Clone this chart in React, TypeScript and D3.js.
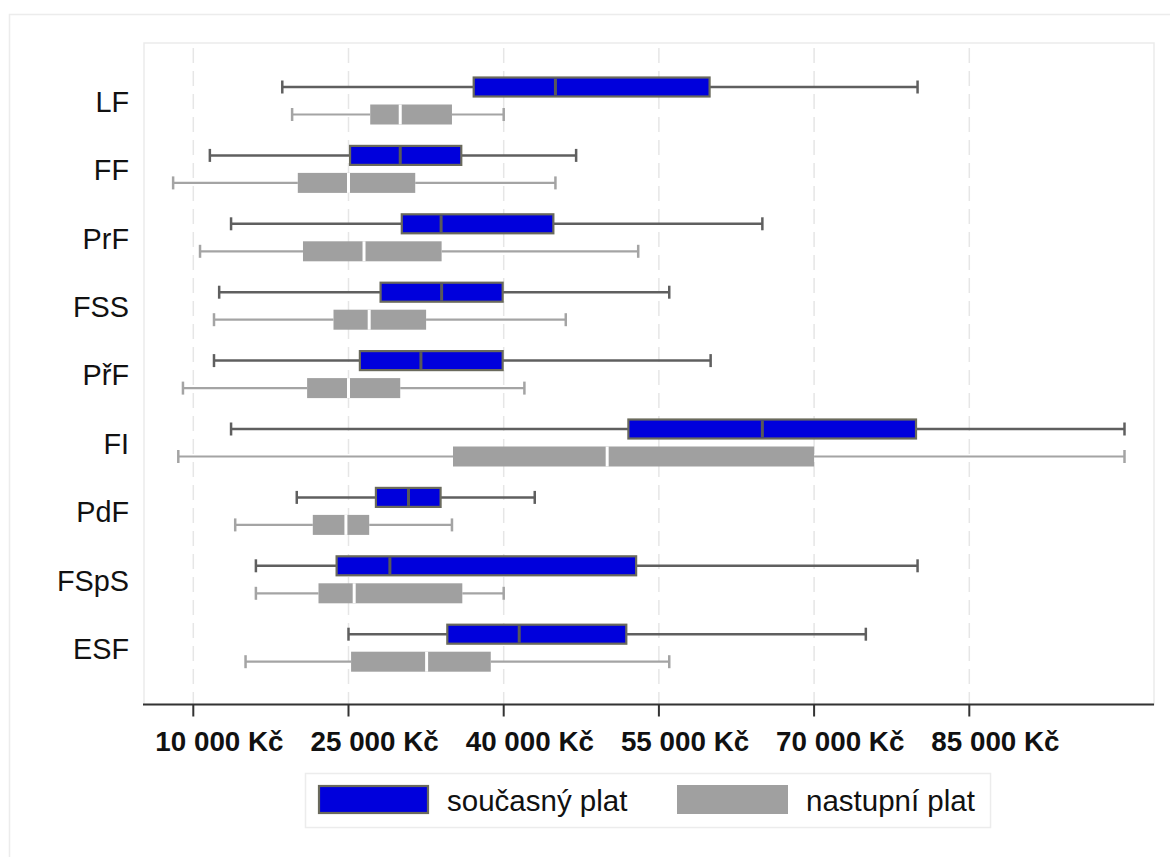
import React from "react";
import * as d3 from "d3";

const categories = ["LF", "FF", "PrF", "FSS", "PřF", "FI", "PdF", "FSpS", "ESF"];

// [min, q1, median, q3, max]
const currentSalary: number[][] = [
  [18600, 37100, 45000, 59900, 80000],
  [11600, 25150, 30000, 35900, 47000],
  [13650, 30150, 33950, 44800, 65000],
  [12500, 28100, 34000, 39900, 56000],
  [12000, 26100, 32000, 39900, 60000],
  [13650, 52050, 65000, 79850, 100000],
  [20000, 27650, 30800, 33900, 43000],
  [16050, 23850, 29000, 52800, 80000],
  [25000, 34550, 41500, 51850, 75000],
];

const startingSalary: number[][] = [
  [19550, 27100, 30000, 35000, 40000],
  [8050, 20100, 25000, 31450, 45000],
  [10650, 20600, 26500, 34000, 53000],
  [12000, 23550, 27000, 32500, 46000],
  [9000, 21000, 25000, 30000, 42000],
  [8550, 35100, 50000, 70000, 100000],
  [14050, 21550, 24750, 27000, 35000],
  [16050, 22100, 25550, 36000, 40000],
  [15050, 25250, 32550, 38750, 56000],
];

const tickValues = [10000, 25000, 40000, 55000, 70000, 85000];
const seriesNames = ["současný plat", "nastupní plat"];

const W = 1170;
const H = 857;
const plotLeft = 144;
const plotRight = 1154;
const plotTop = 43;
const axisY = 704.5;

const FONT = "'Liberation Sans', Arial, sans-serif";

function fmt(v: number) {
  const s = String(v);
  return s.replace(/\B(?=(\d{3})+(?!\d))/g, " ") + " Kč";
}

export default function App() {
  const x = d3
    .scaleLinear()
    .domain([10000, 85000])
    .range([193.3, 193.3 + 5 * 155.2]);

  const y = d3
    .scaleBand<string>()
    .domain(categories)
    .range([66.55, 66.55 + 9 * 68.4])
    .paddingInner(0)
    .paddingOuter(0);

  const boxH = 19;
  const offset = 13.75;

  const blueFill = "#0000dc";
  const blueStroke = "#6a6a5c";
  const blueWhisker = "#5f5f5f";
  const grayFill = "#a0a0a0";
  const grayWhisker = "#a4a4a4";

  const renderBox = (d: number[], cy: number, kind: "cur" | "start", key: string) => {
    const [mn, q1, md, q3, mx] = d;
    const isCur = kind === "cur";
    const wColor = isCur ? blueWhisker : grayWhisker;
    const wWidth = isCur ? 2.5 : 2.2;
    return (
      <g key={key}>
        <line x1={x(mn)} x2={x(q1)} y1={cy} y2={cy} stroke={wColor} strokeWidth={wWidth} />
        <line x1={x(q3)} x2={x(mx)} y1={cy} y2={cy} stroke={wColor} strokeWidth={wWidth} />
        <line x1={x(mn)} x2={x(mn)} y1={cy - 6.5} y2={cy + 6.5} stroke={wColor} strokeWidth={2.5} />
        <line x1={x(mx)} x2={x(mx)} y1={cy - 6.5} y2={cy + 6.5} stroke={wColor} strokeWidth={2.5} />
        {isCur ? (
          <rect
            x={x(q1)}
            y={cy - boxH / 2}
            width={x(q3) - x(q1)}
            height={boxH}
            fill={blueFill}
            stroke={blueStroke}
            strokeWidth={2.2}
          />
        ) : (
          <rect
            x={x(q1)}
            y={cy - (boxH + 1) / 2}
            width={x(q3) - x(q1)}
            height={boxH + 1}
            fill={grayFill}
          />
        )}
        <line
          x1={x(md)}
          x2={x(md)}
          y1={cy - boxH / 2 + (isCur ? 1 : -0.5)}
          y2={cy + boxH / 2 - (isCur ? 1 : -0.5)}
          stroke={isCur ? "#595959" : "#ffffff"}
          strokeWidth={3}
        />
      </g>
    );
  };

  return (
    <svg
      width={W}
      height={H}
      style={{ position: "absolute", left: 0, top: 0, background: "#fff" }}
      fontFamily={FONT}
    >
      <rect x={0} y={0} width={W} height={H} fill="#ffffff" />
      {/* outer frame */}
      <rect x={9.5} y={14.5} width={W + 20} height={H + 20} fill="none" stroke="#ececec" strokeWidth={1.5} />
      {/* plot frame */}
      <rect
        x={plotLeft}
        y={plotTop}
        width={plotRight - plotLeft}
        height={axisY - plotTop}
        fill="none"
        stroke="#ebebeb"
        strokeWidth={1.5}
      />
      {/* gridlines */}
      {tickValues.map((t) => (
        <line
          key={"g" + t}
          x1={x(t)}
          x2={x(t)}
          y1={plotTop + 5}
          y2={axisY}
          stroke="#e6e6e6"
          strokeWidth={1.5}
          strokeDasharray="15 8"
        />
      ))}
      {/* boxes */}
      {categories.map((c, i) => {
        const cy = (y(c) as number) + y.bandwidth() / 2;
        return (
          <g key={c}>
            {renderBox(currentSalary[i], cy - offset, "cur", c + "cur")}
            {renderBox(startingSalary[i], cy + offset, "start", c + "st")}
            <text
              x={129}
              y={cy + 1}
              textAnchor="end"
              dominantBaseline="central"
              fontSize={28.8}
              fill="#111"
            >
              {c}
            </text>
          </g>
        );
      })}
      {/* x axis */}
      <line x1={plotLeft - 1} x2={plotRight} y1={axisY} y2={axisY} stroke="#333" strokeWidth={2} />
      {tickValues.map((t) => (
        <g key={"t" + t}>
          <line x1={x(t)} x2={x(t)} y1={axisY} y2={axisY + 12} stroke="#333" strokeWidth={2} />
          <text x={x(t) - 38} y={751} fontSize={27.8} fontWeight="bold" fill="#111">
            {fmt(t)}
          </text>
        </g>
      ))}
      {/* legend */}
      <rect x={305.5} y={773.5} width={685} height={54} fill="#fff" stroke="#ececec" strokeWidth={1.5} />
      <rect x={319} y={786} width={109} height={27} fill={blueFill} stroke={blueStroke} strokeWidth={2.2} />
      <text x={447} y={811} fontSize={29.5} fill="#111">
        {seriesNames[0]}
      </text>
      <rect x={677} y={785} width={111} height={29} fill={grayFill} />
      <text x={806} y={811} fontSize={29.5} fill="#111">
        {seriesNames[1]}
      </text>
    </svg>
  );
}
